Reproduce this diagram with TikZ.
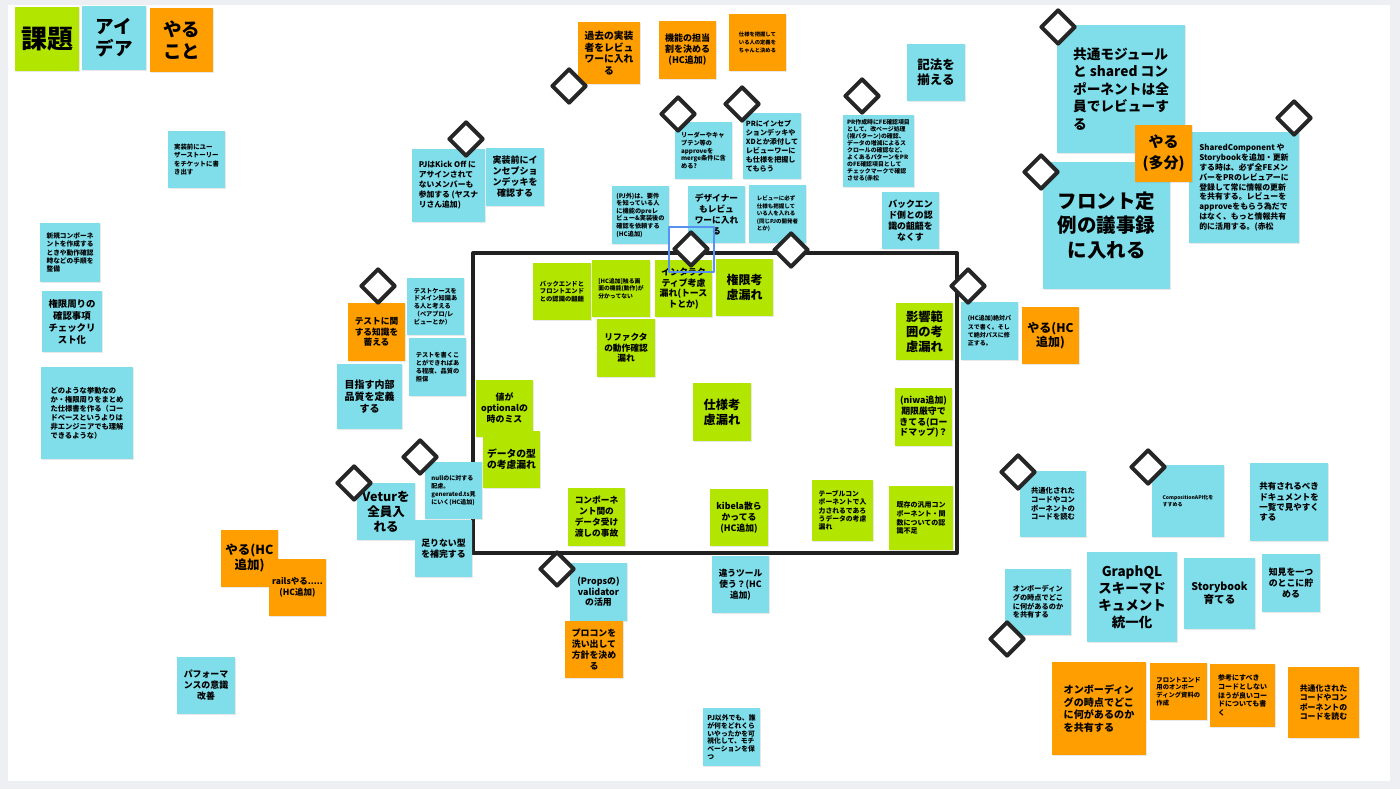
\documentclass[tikz,border=0pt]{standalone}
\usepackage{fontspec}
\setmainfont{Noto Sans CJK JP}
\usetikzlibrary{shapes.geometric,shadows}
\definecolor{kgreen}{RGB}{178,230,0}
\definecolor{kblue}{RGB}{128,222,234}
\definecolor{korange}{RGB}{255,158,0}
\definecolor{canvas}{RGB}{237,239,242}
\definecolor{pick}{RGB}{88,146,240}

\begin{document}
\begin{tikzpicture}[x=1pt,y=-1pt,line join=round,
	note/.style={minimum width=57,minimum height=57,inner sep=1,align=center,
		drop shadow={opacity=0.18,shadow xshift=0.6pt,shadow yshift=-1.2pt}},
	gnote/.style={note,fill=kgreen},
	bnote/.style={note,fill=kblue},
	onote/.style={note,fill=korange},
	wh/.style 2 args={minimum width=#1,minimum height=#2},
	fs/.style 2 args={font=\fontsize{#1}{#2}\selectfont\bfseries},
	diam/.style={diamond,draw=black!85,line width=4,fill=white,minimum size=35,inner sep=0}]
	\fill[canvas] (0,0) rectangle (1400,789);
	\fill[white] (8,5) rectangle (1390,781);
	\useasboundingbox (0,0) rectangle (1400,789);
	% frame
	\draw[line width=4,black!87] (473,253) rectangle (957,553);
	% legend
	\node[gnote,wh={64}{64},fs={26}{30}] (kadai) at (47,39) {課題};
	\node[bnote,wh={64}{64},fs={18.5}{22}] (idea) at (114,38) {アイ\\デア};
	\node[onote,wh={63}{64},fs={18.5}{22}] (yarukoto) at (181.5,40) {やる\\こと};
	% left
	\node[bnote,fs={6.4}{8.5},align=left] (userstory) at (196.5,159.5) {実装前にユー\\ザーストーリー\\をチケットに書\\き出す};
	\node[bnote,wh={60}{59},fs={6.7}{8.3},align=left] (shinki) at (70,252.5) {新規コンポーネ\\ントを作成する\\ときや動作確認\\時などの手順を\\整備};
	\node[bnote,wh={60}{61},fs={9.4}{12}] (kengencheck) at (72,321.5) {権限周りの\\確認事項\\チェックリ\\スト化};
	\node[bnote,wh={92}{92},fs={7.3}{8.9},align=left] (shiyousho) at (87,413) {どのような挙動なの\\か・権限周りをまとめ\\た仕様書を作る（コー\\ドベースというよりは\\非エンジニアでも理解\\できるような）};
	\node[onote,fs={12.5}{15}] (yaruhcL) at (249.5,558) {やる(HC\\追加)};
	\node[onote,fs={8.5}{10.7}] (rails) at (297.5,587.5) {railsやる.....\\(HC追加)};
	\node[bnote,wh={58}{57},fs={8.9}{11}] (perf) at (206,685.5) {パフォーマ\\ンスの意識\\改善};
	% top
	\node[onote,wh={62}{62},fs={9.8}{11.5}] (kako) at (609,53) {過去の実装\\者をレビュ\\ワーに入れ\\る};
	\node[onote,wh={57}{58},fs={9}{11}] (tantou) at (687.5,50) {機能の担当\\割を決める\\(HC追加)};
	\node[onote,fs={5.3}{8},align=left] (teigi) at (757.5,42.5) {仕様を把握して\\いる人の定義を\\ちゃんと決める};
	\node[bnote,wh={73}{73},fs={7.8}{10},align=left] (kickoff) at (448.5,185.5) {PJはKick Off に\\アサインされて\\ないメンバーも\\参加する (ヤスナ\\リさん追加)};
	\node[bnote,wh={58}{58},fs={9}{11}] (inception) at (515,177) {実装前にイ\\ンセプショ\\ンデッキを\\確認する};
	\node[bnote,fs={6.2}{7.7},align=left] (leader) at (703.5,150.5) {リーダーやキャ\\プテン等の\\approveを\\merge条件に含\\める?};
	\node[bnote,wh={58}{66},fs={7.1}{9},align=left] (prdeck) at (772,146) {PRにインセプ\\ションデッキや\\XDとか添付して\\レビューワーに\\も仕様を把握し\\てもらう};
	\node[bnote,wh={57}{58},fs={6.2}{7.6},align=left] (pjgai) at (640.5,215) {(PJ外)は、要件\\を知っている人\\に機能のpreレ\\ビュー\&実装後の\\確認を依頼する\\(HC追加)};
	\node[bnote,fs={8.7}{11}] (designer) at (716.5,214.5) {デザイナー\\もレビュ\\ワーに入れ\\る};
	\node[bnote,wh={57}{58},fs={5.5}{7.5},align=left] (reviewer) at (777.5,214) {レビューに必ず\\仕様も把握して\\いる人を入れる\\(同じPJの開発者\\とか)};
	\node[bnote,wh={58}{57},fs={12.5}{15}] (kihou) at (936,72.5) {記法を\\揃える};
	\node[bnote,wh={71}{72},fs={5.9}{7},align=left] (prfe) at (878.5,151) {PR作成時にFE確認項目\\として、改ページ処理\\(複パターン)の確認、\\データの増減によるス\\クロールの確認など、\\よくあるパターンをPR\\のFE確認項目として\\チェックマークで確認\\させる(赤松};
	\node[bnote,fs={8.9}{11}] (backend) at (910.5,220.5) {バックエン\\ド側との認\\識の齟齬を\\なくす};
	% right top
	\node[bnote,wh={128}{128},fs={13.7}{17.5},align=left] (kyoutsuu) at (1121,89) {共通モジュール\\と shared コン\\ポーネントは全\\員でレビューす\\る};
	\node[bnote,wh={127}{127},fs={19.5}{24.5}] (front) at (1106.5,225.5) {フロント定\\例の議事録\\に入れる};
	\node[bnote,wh={110}{111},fs={7.9}{9.8},align=left] (shared) at (1244,187.5) {SharedComponent や\\Storybookを追加・更新\\する時は、必ず全FEメン\\バーをPRのレビュアーに\\登録して常に情報の更新\\を共有する。レビューを\\approveをもらう為だで\\はなく、もっと情報共有\\的に活用する。(赤松};
	\node[onote,fs={15}{21}] (yarutabun) at (1163.5,153.5) {やる\\(多分)};
	% test
	\node[onote,wh={57}{58},fs={8.7}{10.7}] (testknow) at (376.5,332) {テストに関\\する知識を\\蓄える};
	\node[bnote,fs={6.2}{7.8},align=left] (testcase) at (435.5,306.5) {テストケースを\\ドメイン知識あ\\る人と考える\\（ペアプロ/レ\\ビューとか）};
	\node[bnote,wh={57}{58},fs={6.2}{8},align=left] (testwrite) at (437.5,367) {テストを書くこ\\とができればあ\\る程度、品質の\\担保};
	\node[bnote,wh={65}{65},fs={10}{12}] (naibu) at (369.5,396.5) {目指す内部\\品質を定義\\する};
	% inside frame
	\node[gnote,fs={8.9}{11}] (optional) at (504.5,408.5) {値が\\optionalの\\時のミス};
	\node[gnote,fs={9.8}{10.8}] (datatype) at (511.5,459.5) {データの型\\の考慮漏れ};
	\node[gnote,wh={58}{57},fs={6.3}{7.6},align=left] (bfgap) at (562,291.5) {バックエンドと\\フロントエンド\\との認識の齟齬};
	\node[gnote,wh={58}{57},fs={5.8}{7.5},align=left] (hcscreen) at (621,288.5) {[HC追加]触る画\\面の機能(動作)が\\分かってない};
	\node[gnote,fs={8.9}{10.7}] (interactive) at (683.5,288.5) {インタラク\\ティブ考慮\\漏れ(トース\\トとか)};
	\node[gnote,fs={12}{15}] (kengenmore) at (744.5,287.5) {権限考\\慮漏れ};
	\node[gnote,wh={58}{58},fs={8.7}{10.7}] (refactor) at (626,348) {リファクタ\\の動作確認\\漏れ};
	\node[gnote,wh={58}{58},fs={12.2}{15}] (shiyoumore) at (722,412) {仕様考\\慮漏れ};
	\node[gnote,fs={12.3}{15}] (eikyou) at (924.5,331.5) {影響範\\囲の考\\慮漏れ};
	\node[gnote,wh={57}{58},fs={8.9}{10.7}] (niwa) at (923.5,417) {(niwa追加)\\期限厳守で\\きてる(ロー\\ドマップ)？};
	\node[gnote,wh={57}{58},fs={8.7}{11}] (compdata) at (596.5,517) {コンポーネ\\ント間の\\データ受け\\渡しの事故};
	\node[gnote,wh={58}{57},fs={8.8}{10.7}] (kibela) at (739,517.5) {kibela散ら\\かってる\\(HC追加)};
	\node[gnote,wh={61}{61},fs={6.8}{8.2},align=left] (table) at (842.5,510.5) {テーブルコン\\ポーネントで入\\力されるであろ\\うデータの考慮\\漏れ};
	\node[gnote,wh={64}{64},fs={7}{8.8},align=left] (kizon) at (921,518) {既存の汎用コン\\ポーネント・関\\数についての認\\識不足};
	% left of frame, bottom
	\node[bnote,fs={6}{7.7},align=left] (nullcare) at (453.5,490.5) {nullのに対する\\配慮。\\generated.ts見\\にいく(HC追加)};
	\node[bnote,wh={58}{57},fs={12.5}{15}] (vetur) at (386,511.5) {Veturを\\全員入\\れる};
	\node[bnote,fs={8.9}{10.7}] (tarinai) at (443.5,548.5) {足りない型\\を補完する};
	\node[bnote,wh={57}{58},fs={8.9}{10.5}] (validator) at (598.5,592) {(Propsの)\\validator\\の活用};
	\node[onote,wh={58}{57},fs={8.9}{11}] (procon) at (594,649.5) {プロコンを\\洗い出して\\方針を決め\\る};
	\node[bnote,fs={8.7}{11}] (tool) at (740.5,584.5) {違うツール\\使う？(HC\\追加)};
	\node[bnote,wh={57}{58},fs={6.8}{7.7},align=left] (motivation) at (731.5,737) {PJ以外でも、誰\\が何をどれくら\\いやったかを可\\視化して、モチ\\ベーションを保\\つ};
	% right
	\node[bnote,wh={57}{58},fs={6}{8.3},align=left] (abspath) at (989.5,331) {(HC追加)絶対パ\\スで書く。そし\\て絶対パスに修\\正する。};
	\node[onote,fs={12}{13.3}] (yaruhcR) at (1050.5,335.5) {やる(HC\\追加)};
	\node[bnote,wh={66}{66},fs={7.3}{8.8},align=left] (readcodeB) at (1053,504) {共通化された\\コードやコン\\ポーネントの\\コードを読む};
	\node[bnote,wh={72}{72},fs={5}{6.7},align=left] (composition) at (1188,501) {CompositionAPI化を\\すすめる};
	\node[bnote,wh={78}{78},fs={8.5}{10.3},align=left] (shareddoc) at (1289,502) {共有されるべき\\ドキュメントを\\一覧で見やすく\\する};
	\node[bnote,wh={66}{66},fs={7.2}{8.7},align=left] (onboardB) at (1038,602) {オンボーディン\\グの時点でどこ\\に何があるのか\\を共有する};
	\node[bnote,wh={90}{90},fs={13.5}{17}] (graphql) at (1132,597) {GraphQL\\スキーマド\\キュメント\\統一化};
	\node[bnote,wh={71}{71},fs={10.6}{13}] (storybook) at (1219.5,593.5) {Storybook\\育てる};
	\node[bnote,wh={58}{58},fs={8.9}{10.8}] (chiken) at (1291,583) {知見を一つ\\のとこに貯\\める};
	\node[onote,wh={94}{93},fs={10.1}{12.6},align=left] (onboardO) at (1099,708.5) {オンボーディン\\グの時点でどこ\\に何があるのか\\を共有する};
	\node[onote,fs={6.3}{7.8},align=left] (frontdoc) at (1178.5,691.5) {フロントエンド\\用のオンボー\\ディング資料の\\作成};
	\node[onote,wh={65}{63},fs={7}{8.6},align=left] (sankou) at (1242.5,695.5) {参考にすべき\\コードとしない\\ほうが良いコー\\ドについても書\\く};
	\node[onote,wh={71}{71},fs={7.9}{9.2},align=left] (readcodeO) at (1323.5,702.5) {共通化された\\コードやコン\\ポーネントの\\コードを読む};
	% votes
	\foreach \p [count=\i] in {(569,86),(466,139),(678,114),(742,104),(691,249),(791,250),(862,96),(1041,172),(1058,27),(1294,118),(378,286),(420,457),(354,483),(968,286),(1018,472),(1148,467),(1007,639),(557,569)}
		\node[diam] (d\i) at \p {};
	\node[draw=pick,line width=1.5,wh={45}{45},inner sep=0] (sel) at (691.5,249.5) {};
\end{tikzpicture}
\end{document}
